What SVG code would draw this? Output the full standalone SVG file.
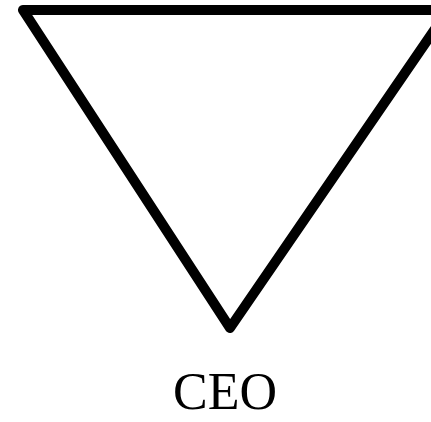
<svg xmlns="http://www.w3.org/2000/svg" width="431" height="422" viewBox="0 0 431 422">
<style>
.tri{fill:none;stroke:#000;stroke-width:10;stroke-linejoin:round;stroke-linecap:round}
.lbl{font-family:"Liberation Serif","Times New Roman",serif;font-size:52px;fill:#000}
</style>
<rect width="431" height="422" fill="#fff"/>
<g id="triangle">
<path class="tri" d="M23,10 L448,10 L230,328 Z"/>
</g>
<g id="ceo">
<text class="lbl" x="225" y="409" text-anchor="middle">CEO</text>
</g>
</svg>
